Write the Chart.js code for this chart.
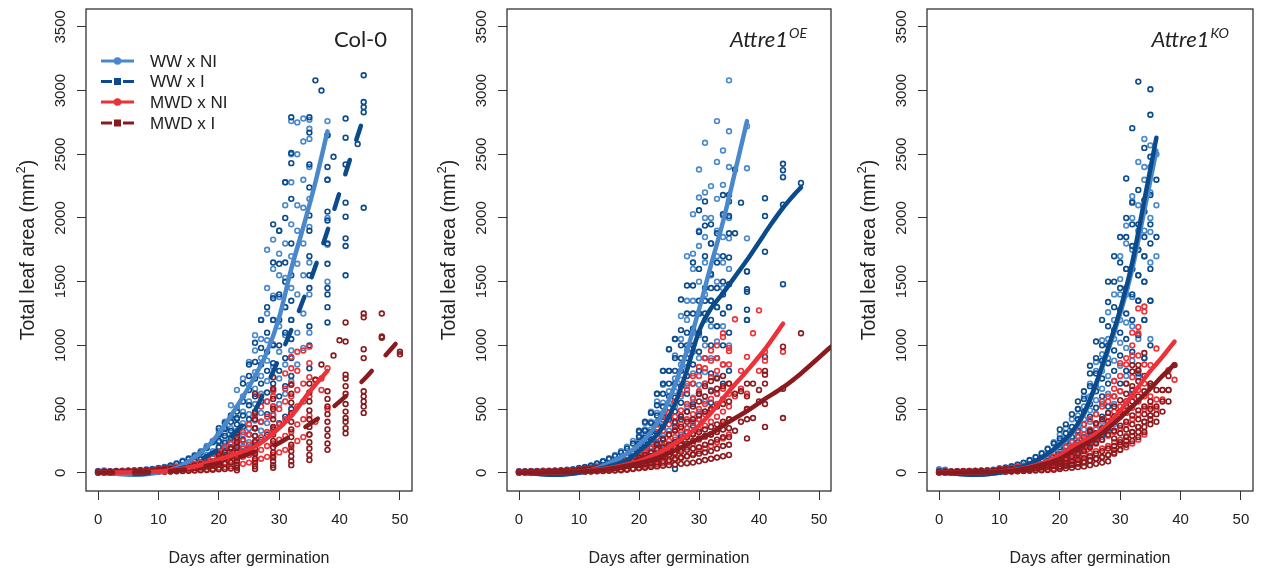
<!DOCTYPE html>
<html>
<head>
<meta charset="utf-8">
<script src="https://cdn.jsdelivr.net/npm/chart.js@4.4.1/dist/chart.umd.min.js"></script>
<style>
  body { margin: 0; background: #fff; width: 1263px; height: 572px; position: relative; overflow: hidden; }
  canvas { position: absolute; top: 0; }
</style>
</head>
<body>
<canvas id="p1" width="421" height="572" style="left:0px"></canvas>
<canvas id="p2" width="421" height="572" style="left:421px"></canvas>
<canvas id="p3" width="421" height="572" style="left:841px"></canvas>
<script>
const seriesNames = ["WW x NI", "WW x I", "MWD x NI", "MWD x I"];
const seriesColors = ["#4a88cc", "#0b4b8b", "#ec3238", "#8b1a1e"];
const xTicks = [0, 10, 20, 30, 40, 50];
const yTicks = [0, 500, 1000, 1500, 2000, 2500, 3000, 3500];

// ---- Col-0 : measured plants (day, values per day) ----
const col0WwNiDays = [0,1,2,3,4,5,6,7,8,9,10,11,12,13,14,15,16,17,18,19,20,21,22,23,24,25,26,27,28,29,30,31,32,33,34,35,38];
const col0WwNiVals = [
  [2,8,15],[3,10,18],[4,12],[5,14],[6,16],[6,18],[7,20],[8,22],[10,26],[12,30],
  [15,25,38],[18,32,45],[22,40,58],[26,50,75],[32,62,95],[40,75,115],[48,95,140],[58,115,170],[70,140,210],[85,170,250],
  [110,160,205,240,290,330],[130,190,250,310,360,400],[150,225,280,350,430,530],[175,260,330,420,510,650],[205,300,390,480,600,740],
  [240,350,460,560,690,870],[290,410,540,660,790,960,1080],[330,470,620,760,900,1050,1200],[390,560,720,880,1040,1250,1450,1750],[460,640,830,1010,1200,1390,1600,1830],
  [540,740,950,1150,1380,1550,1720,1900],[620,850,1080,1300,1530,1800,2100,2280],[720,960,1200,1450,1700,1950,2280,2500,2760],[850,1100,1400,1640,1900,2100,2500,2750],
  [980,1250,1550,1800,2080,2300,2600,2780],[1100,1400,1650,1930,2150,2400,2620,2700,2770],[1500,1790,2000,2300,2650,2760]
];
const col0WwIDays = [0,1,2,3,4,5,6,7,8,9,10,11,12,13,14,15,16,17,18,19,20,21,22,23,24,25,26,27,28,29,30,31,32,35,36,37,38,39,41,43,44];
const col0WwIVals = [
  [3,10],[4,12],[4,13],[5,14],[5,15],[6,16],[7,18],[8,20],[9,24],[11,28],
  [14,25,35],[17,30,42],[20,38,55],[24,46,70],[30,58,88],[36,70,108],[44,88,130],[52,105,160],[62,125,195],[75,150,240],
  [95,150,200,250,300,350],[110,175,235,290,345,390],[125,200,270,330,400,450],[140,230,310,380,430,480],[165,260,360,450,560,700],
  [190,300,420,530,650,760,850],[220,350,480,600,740,870,1020],[260,400,560,700,850,980,1200],[300,460,630,800,950,1100,1300],
  [340,520,700,860,1000,1200,1370,1650,1950],[390,600,800,1000,1200,1400,1640,1900],[440,680,900,1100,1300,1500,1650,2000,2280],
  [500,760,900,1050,1200,1350,1550,1800,2150,2430,2510,2790],
  [820,1000,1150,1450,1550,1700,1900,2020,2240,2420,2670,2790],[3080],[3000],[1180,1300,1400,1450,1640,1800,1980,2050,2300,2400,2650],[2480],
  [1550,1780,1840,2010,2120,2420,2630,2780],[2580],[2080,2830,2870,2910,3120]
];
const col0MwdNiDays = [0,1,2,3,4,5,6,7,8,9,10,11,12,13,14,15,16,17,18,19,20,21,22,23,24,25,26,27,28,29,30,31,32,33,34,35,36,37,38];
const col0MwdNiVals = [
  [2,8],[3,9],[3,10],[4,11],[4,12],[5,13],[5,14],[6,15],[7,17],[8,19],
  [9,20,28],[10,22,33],[12,26,38],[14,30,45],[16,35,52],[18,40,62],[21,46,72],[24,55,85],[28,64,100],[32,75,120],
  [40,70,100,140,165],[45,80,120,160,200],[52,95,140,185,230],[60,110,160,215,260],[70,125,190,250,320],
  [80,140,220,300,380],[95,160,250,350,450],[110,180,280,400,520,600],[125,210,320,440,560],[140,230,350,450,520,600,650],
  [160,260,380,500],[180,290,420,560,660,780],[200,320,460,600,700,820,910],[250,380,520,650,800,950],[280,420,560,700,960],
  [300,450,600,750,860,990],[400,730],[650,740],[500,820]
];
const col0MwdIDays = [0,1,2,3,4,5,6,7,8,9,10,11,12,13,14,15,16,17,18,19,20,21,22,23,26,29,32,35,36,37,38,39,40,41,44,47,50];
const col0MwdIVals = [
  [2,7],[3,8],[3,9],[4,10],[4,11],[5,12],[5,13],[6,14],[7,15],[7,17],
  [8,18,25],[9,20,29],[10,23,33],[12,26,38],[13,29,44],[15,33,50],[17,37,58],[19,42,66],[21,48,76],[24,55,88],
  [27,62,100,140],[30,70,115,160],[34,80,130,190],
  [20,40,60,90,120,160,200,240,280,310],
  [30,50,80,110,150,190,240,290,350,420,470,620],
  [40,60,90,120,160,200,250,300,360,420,500,580,660,750],
  [60,90,130,170,220,280,340,400,470,550,620,690],
  [100,140,190,240,300,360,420,490,560,630,700],
  [730],[850],
  [180,230,290,340,400,460,520,580,640],
  [920],[1040],
  [310,350,400,430,480,540,620,680,740,770,1030,1180],
  [470,520,560,600,640,900,970,1220,1250],
  [1060,1070,1250],
  [930,950]
];
// ---- Col-0 : fitted curves ----
const col0FitWwNiDays = [0,3,6,9,12,15,18,20,23,26,28,30,32,34,36,38];
const col0FitWwNiVals = [0,-8,-15,-5,20,90,200,310,520,760,950,1220,1600,1930,2280,2680];
const col0FitWwIDays = [0,3,6,9,12,15,18,20,23,26,28,30,32,34,36,38,40,42,44];
const col0FitWwIVals = [0,-5,-10,0,15,55,130,190,330,490,690,900,1120,1360,1620,1900,2200,2500,2790];
const col0FitMwdNiDays = [0,3,6,9,12,15,18,20,23,26,29,32,35,38];
const col0FitMwdNiVals = [0,2,4,8,18,40,75,105,150,205,310,445,635,800];
const col0FitMwdIDays = [0,3,6,9,12,15,18,20,23,26,29,32,35,38,41,44,47,50];
const col0FitMwdIVals = [0,2,4,7,14,30,55,75,115,165,210,290,380,480,600,730,890,1050];

// ---- Attre1 OE : measured plants ----
const oeWwNiDays = [0,1,2,3,4,5,6,7,8,9,10,11,12,13,14,15,16,17,18,19,20,21,22,23,24,25,26,27,28,29,30,31,32,33,34,35,38];
const oeWwNiVals = [
  [3,12],[4,13],[4,14],[5,15],[5,16],[6,17],[7,19],[8,21],[9,24],[11,28],
  [14,26,38],[17,32,46],[20,40,58],[25,50,75],[30,62,92],[37,76,115],[45,92,140],[55,112,170],[66,135,205],[80,165,250],
  [95,150,200,250,290,320],[115,175,235,290,340,390],[135,205,270,340,400,480],[160,240,320,400,470,560,620],[190,290,380,470,550,690,800],
  [220,330,440,550,640,800,970],[260,390,520,640,740,920,1050],[300,450,600,730,850,1050,1230],[350,520,680,830,960,1200,1350,1700],
  [400,590,780,950,1100,1350,1600,1720,2030],[480,690,900,1080,1250,1500,1780,1900,2160,2380],[560,790,1000,1200,1400,1650,1850,2000,2200,2590],
  [650,900,1150,1350,1550,1800,2000,2250],[750,1030,1300,1500,1700,1900,2150,2440,2760],[850,1150,1450,1650,1850,2020,2260,2530],
  [1000,1300,1600,1840,2000,2400,2680,3080],[1200,1580,1840,2390,2720]
];
const oeWwIDays = [0,1,2,3,4,5,6,7,8,9,10,11,12,13,14,15,16,17,18,19,20,21,22,23,24,25,26,27,28,29,30,31,32,33,34,35,36,37,38,41,44,47];
const oeWwIVals = [
  [3,10],[4,11],[4,12],[5,13],[5,14],[6,15],[6,17],[7,19],[8,22],[10,26],
  [13,25,36],[16,30,44],[19,37,55],[23,46,70],[28,57,88],[34,70,108],[41,86,130],[50,104,158],[60,125,190],[72,150,230],
  [90,140,180,230,280,330],[110,165,220,275,330,400],[130,195,260,320,390,470],[150,230,310,380,450,530,620],[180,270,360,440,520,620,700,800],
  [200,300,420,510,600,700,800,970],[30,240,360,480,590,700,800,900,1050],[280,420,550,680,800,900,1000,1120,1360],[320,480,620,760,900,1000,1100,1250,1470],
  [370,540,700,850,1000,1130,1250,1470,1650],[420,620,800,950,1100,1250,1350,1600,1890,2060],[480,700,900,1050,1250,1350,1450,1700,1940,2130],
  [550,780,1000,1200,1350,1450,1560,1800,1950],[620,900,1150,1300,1450,1650,1880],[700,1000,1250,1400,1500,1700,2030,2180],
  [800,1100,1300,1480,1690,1880,2015,2130,2180],[1880,2380],[2120],[1200,1280,1420,1440,1580],
  [910,1735,2015,2155],[1480,2105,2320,2375,2425],[2275]
];
const oeMwdNiDays = [0,1,2,3,4,5,6,7,8,9,10,11,12,13,14,15,16,17,18,19,20,21,22,23,24,25,26,27,28,29,30,31,32,33,34,35,36,37,38,39,40,41,44];
const oeMwdNiVals = [
  [2,8],[3,9],[3,10],[4,11],[4,12],[5,13],[5,14],[6,15],[7,17],[8,19],
  [9,20,26],[10,23,30],[12,27,36],[14,31,42],[16,36,50],[19,42,60],[22,50,72],[26,58,86],[30,68,100],[35,80,120],
  [40,70,95,120,140,160],[48,80,110,140,165,190],[55,90,125,160,190,230],[65,105,145,185,220,280,350],[75,120,170,215,260,330,420],
  [85,140,195,250,300,380,470],[100,160,220,280,340,440,560],[115,180,250,320,380,490,620],[130,200,280,350,420,540,650,700],
  [150,230,310,390,460,580,700,760],[170,260,340,420,500,640,760,830],[190,280,370,460,540,700,820,900],[210,300,400,490,580,750,880,960],
  [240,340,440,540,620,800,900,1000],[270,380,480,580,660,850,1065,1095],[300,420,520,620,700,850,955,980],
  [600,1205],[660,800],[500,620,910],[1095],[800,1275],[880,950],[950]
];
const oeMwdIDays = [0,1,2,3,4,5,6,7,8,9,10,11,12,13,14,15,16,17,18,19,20,21,22,23,24,25,26,27,28,29,30,31,32,33,34,35,36,37,38,39,40,41,44,47];
const oeMwdIVals = [
  [2,7],[3,8],[3,9],[4,10],[4,11],[5,12],[5,13],[6,14],[7,15],[7,17],
  [8,18,24],[9,20,28],[10,23,32],[12,26,37],[13,29,42],[15,33,48],[17,37,56],[20,44,66],[24,52,78],[29,62,95],
  [35,60,80,100,120],[40,65,90,115,140],[45,72,100,130,160],[50,80,110,145,180,220],[55,90,125,160,200,260],
  [60,100,140,180,220,300],[65,110,150,200,240,330,400],[70,120,165,220,260,360,440],[75,130,180,230,280,400,480],
  [80,140,190,250,300,420,520],[90,150,200,270,320,450,560,620],[100,160,220,290,340,480,600,680],[110,170,240,300,360,500,640,720],
  [120,190,260,320,380,520,660,740],[130,210,280,340,400,540,680,760],[140,220,280,350,420,560,700],
  [330,620],[400,640],[270,420,500,600,700],[430,700],[560,650],[360,540,700,770,800],[430,660,990],[1095]
];
// ---- Attre1 OE : fitted curves ----
const oeFitWwNiDays = [0,3,6,9,12,15,18,20,22,24,26,28,30,32,34,36,38];
const oeFitWwNiVals = [0,-8,-15,-5,20,75,150,220,320,470,690,960,1280,1630,1970,2360,2760];
const oeFitWwIDays = [0,3,6,9,12,15,18,20,22,24,26,28,30,32,34,36,38,40,42,44,46,47];
const oeFitWwIVals = [0,-8,-15,-5,18,50,100,170,250,360,540,806,1110,1290,1410,1540,1670,1810,1950,2080,2190,2240];
const oeFitMwdNiDays = [0,3,6,9,12,15,18,20,23,26,29,32,35,38,41,44];
const oeFitMwdNiVals = [0,2,4,8,16,35,65,90,150,230,330,470,640,800,970,1170];
const oeFitMwdIDays = [0,3,6,9,12,15,18,20,23,26,29,32,35,38,41,44,47,50,52];
const oeFitMwdIVals = [0,2,4,7,14,30,55,75,115,175,245,310,400,485,580,670,780,905,990];

// ---- Attre1 KO : measured plants ----
const koWwNiDays = [0,1,2,3,4,5,6,7,8,9,10,11,12,13,14,15,16,17,18,19,20,21,22,23,24,25,26,27,28,29,30,31,32,33,34,35,36];
const koWwNiVals = [
  [5,20,28],[5,18,25],[4,12],[5,13],[5,14],[6,15],[6,16],[7,18],[8,20],[9,24],
  [12,25,35],[15,30,42],[18,36,52],[22,45,65],[27,55,80],[33,68,100],[40,85,125],[50,105,155],[60,130,190],[72,155,240],
  [80,130,180,250,300],[100,150,210,270,350],[120,180,250,320,420],[140,210,290,360,450,500],[170,250,340,420,520,600],
  [200,290,400,490,600,700],[240,340,460,570,680,800,870],[280,400,540,660,800,930,1040],[330,470,620,760,900,1050,1260],
  [380,540,720,880,1050,1200,1400],[450,640,840,1020,1200,1400,1520,1700],[530,760,980,1180,1400,1600,1800,1940],
  [620,880,1150,1380,1600,1750,2000,2130,2170],[750,1050,1350,1550,1750,1900,2100,2440],[900,1200,1500,1700,1900,2050,2300,2400,2620],
  [1050,1350,1650,1890,2000,2200,2400,2570],[1700,2100,2500]
];
const koWwIDays = [0,1,2,3,4,5,6,7,8,9,10,11,12,13,14,15,16,17,18,19,20,21,22,23,24,25,26,27,28,29,30,31,32,33,34,35,36];
const koWwIVals = [
  [4,15],[4,14],[4,11],[5,12],[5,13],[5,14],[6,15],[7,17],[8,19],[9,22],
  [12,24,33],[14,29,40],[17,35,50],[21,43,62],[26,53,78],[32,66,98],[39,82,122],[48,102,150],[58,126,185],[70,152,230],
  [90,140,200,270,340],[110,170,240,310,380],[130,200,280,360,460],[150,240,330,420,500,560],[180,280,380,480,580,640],
  [220,320,440,540,680,780,840],[260,380,510,640,780,900,1030],[300,440,600,740,880,1000,1200],[350,520,700,860,1000,1150,1340,1500],
  [400,600,800,960,1120,1300,1500,1700],[480,700,920,1100,1280,1450,1650,1850],[560,800,1050,1250,1450,1600,1850,2000,2310],
  [650,950,1200,1400,1600,1780,1950,2120,2705],[780,1080,1350,1550,1750,1950,2220,3070],[900,1200,1500,1700,1850,2050,2140,2550],
  [1000,1350,1600,1800,1950,2180,2480,2810,3010],[1850,2300]
];
const koMwdNiDays = [0,1,2,3,4,5,6,7,8,9,10,11,12,13,14,15,16,17,18,19,20,21,22,23,24,25,26,27,28,29,30,31,32,33,34,35,36,37,38,39];
const koMwdNiVals = [
  [2,8],[3,9],[3,10],[4,11],[4,12],[5,13],[5,14],[6,15],[7,17],[8,19],
  [9,20,28],[10,23,32],[12,27,38],[14,32,45],[16,37,54],[19,44,64],[22,52,76],[26,62,90],[30,72,108],[35,85,128],
  [42,70,100,130,150],[60,95,130,165,200],[70,110,150,195,240],[80,125,170,220,280,320],[90,140,190,245,300,380],
  [100,155,210,275,340,420],[110,170,240,310,380,460],[120,190,260,340,420,520,560],[140,210,290,370,440,560,600],
  [160,240,320,400,480,600,660,720],[180,260,350,440,520,640,760,860],[200,290,380,470,560,700,850,900],
  [230,320,420,510,600,750,920,1000,1100],[260,360,460,560,650,800,920,1095,1145,1290],[300,400,500,600,700,850,1265,1305],
  [450,520,600,700,845],[500,575,975],[575,650],[650,805],[730]
];
const koMwdIDays = [0,1,2,3,4,5,6,7,8,9,10,11,12,13,14,15,16,17,18,19,20,21,22,23,24,25,26,27,28,29,30,31,32,33,34,35,36,37,38,39];
const koMwdIVals = [
  [2,7],[3,8],[3,9],[4,10],[4,11],[5,12],[5,13],[6,14],[7,15],[7,17],
  [8,18,25],[9,20,28],[10,22,32],[12,25,36],[13,28,41],[15,32,47],[17,36,54],[19,41,62],[21,47,72],[24,54,82],
  [30,50,70,90],[35,55,80,110],[40,62,90,130],[45,70,100,150,190],[50,80,115,170,230],
  [60,95,130,200,270,330],[70,110,150,230,310,390],[80,125,170,260,350,420],[90,140,190,300,400,470],
  [150,180,210,270,330,440,520],[180,220,240,310,370,480,570],[220,250,280,340,400,520,620,700],
  [250,290,320,380,450,560,680,795,845],[280,320,360,420,490,600,720,805,845],[320,360,400,460,520,640,760,940],
  [380,420,450,500,560,680,700],[400,460,520,650],[480,560,650],[560,650,760],[845]
];
// ---- Attre1 KO : fitted curves ----
const koFitWwNiDays = [0,3,6,9,12,15,18,20,22,24,26,28,30,32,34,36];
const koFitWwNiVals = [0,-8,-15,-5,20,70,145,215,310,460,690,960,1250,1600,2060,2530];
const koFitWwIDays = [0,3,6,9,12,15,18,20,22,24,26,28,30,32,34,36];
const koFitWwIVals = [0,-8,-15,-5,20,70,150,225,320,470,700,980,1280,1650,2140,2630];
const koFitMwdNiDays = [0,3,6,9,12,15,18,20,23,26,29,32,35,37,39];
const koFitMwdNiVals = [0,2,4,8,18,45,90,135,225,305,430,610,800,910,1030];
const koFitMwdIDays = [0,3,6,9,12,15,18,20,23,26,29,32,35,37,39];
const koFitMwdIVals = [0,2,4,7,15,40,75,110,195,275,390,520,660,760,850];

function points(days, vals) {
  const out = [];
  days.forEach((d, i) => vals[i].forEach(v => out.push({ x: d, y: v })));
  return out;
}
function curve(days, vals) {
  return days.map((d, i) => ({ x: d, y: vals[i] }));
}

const panels = [
  { id: "p1", label: "Col-0", sup: "", italic: false, dashed: true, legend: true, padRight: 9,
    pts: [[col0WwNiDays, col0WwNiVals], [col0WwIDays, col0WwIVals], [col0MwdNiDays, col0MwdNiVals], [col0MwdIDays, col0MwdIVals]],
    fits: [[col0FitWwNiDays, col0FitWwNiVals], [col0FitWwIDays, col0FitWwIVals], [col0FitMwdNiDays, col0FitMwdNiVals], [col0FitMwdIDays, col0FitMwdIVals]] },
  { id: "p2", label: "Attre1", sup: "OE", italic: true, dashed: false, legend: false, padRight: 11,
    pts: [[oeWwNiDays, oeWwNiVals], [oeWwIDays, oeWwIVals], [oeMwdNiDays, oeMwdNiVals], [oeMwdIDays, oeMwdIVals]],
    fits: [[oeFitWwNiDays, oeFitWwNiVals], [oeFitWwIDays, oeFitWwIVals], [oeFitMwdNiDays, oeFitMwdNiVals], [oeFitMwdIDays, oeFitMwdIVals]] },
  { id: "p3", label: "Attre1", sup: "KO", italic: true, dashed: false, legend: false, padRight: 9,
    pts: [[koWwNiDays, koWwNiVals], [koWwIDays, koWwIVals], [koMwdNiDays, koMwdNiVals], [koMwdIDays, koMwdIVals]],
    fits: [[koFitWwNiDays, koFitWwNiVals], [koFitWwIDays, koFitWwIVals], [koFitMwdNiDays, koFitMwdNiVals], [koFitMwdIDays, koFitMwdIVals]] }
];

const FONT = '"Liberation Sans", Arial, sans-serif';
const dashPattern = [15, 21];

// box, rotated y labels, titles, panel name and legend
const decor = {
  id: "decor",
  afterDraw(chart, args, opts) {
    const { ctx, chartArea: a } = chart;
    const y = chart.scales.y;
    ctx.save();
    ctx.strokeStyle = "#333";
    ctx.lineWidth = 1.3;
    ctx.strokeRect(a.left, a.top, a.right - a.left, a.bottom - a.top);

    ctx.fillStyle = "#222";
    ctx.textAlign = "center";
    ctx.textBaseline = "middle";
    ctx.font = "15px " + FONT;
    yTicks.forEach(v => {
      ctx.save();
      ctx.translate(61, y.getPixelForValue(v));
      ctx.rotate(-Math.PI / 2);
      ctx.fillText(String(v), 0, 0);
      ctx.restore();
    });

    // y title with superscript
    ctx.save();
    ctx.translate(27, (a.top + a.bottom) / 2);
    ctx.rotate(-Math.PI / 2);
    ctx.textAlign = "left";
    ctx.textBaseline = "alphabetic";
    const big = "19.5px " + FONT, small = "13px " + FONT;
    ctx.font = big;
    const t1 = "Total leaf area (mm", t3 = ")";
    const w1 = ctx.measureText(t1).width, w3 = ctx.measureText(t3).width;
    ctx.font = small;
    const w2 = ctx.measureText("2").width;
    const sx = -(w1 + w2 + w3) / 2;
    ctx.font = big;
    ctx.fillText(t1, sx, 7);
    ctx.font = small;
    ctx.fillText("2", sx + w1, -2);
    ctx.font = big;
    ctx.fillText(t3, sx + w1 + w2, 7);
    ctx.restore();

    // x title
    ctx.font = "16px " + FONT;
    ctx.fillText("Days after germination", (a.left + a.right) / 2, 559);

    // panel name
    const p = opts.panel;
    const right = a.right - 24;
    ctx.textBaseline = "alphabetic";
    ctx.textAlign = "right";
    let supW = 0;
    if (p.sup) {
      ctx.font = "italic 14px Lato, " + FONT;
      supW = ctx.measureText(p.sup).width;
      ctx.fillText(p.sup, right, 38);
    }
    ctx.font = (p.italic ? "italic " : "") + "22px Lato, " + FONT;
    ctx.fillText(p.label, right - supW - 1, 47);

    if (p.legend) {
      const rows = [61, 81.5, 102, 123];
      ctx.textAlign = "left";
      ctx.textBaseline = "middle";
      ctx.font = "17px " + FONT;
      seriesNames.forEach((name, i) => {
        const ry = rows[i], c = seriesColors[i];
        ctx.strokeStyle = c;
        ctx.fillStyle = c;
        ctx.lineWidth = 3;
        ctx.lineCap = "butt";
        ctx.beginPath();
        if (i % 2 === 0) {
          ctx.moveTo(101, ry); ctx.lineTo(134, ry);
          ctx.stroke();
          ctx.beginPath();
          ctx.arc(117.5, ry, 3.8, 0, Math.PI * 2);
          ctx.fill();
        } else {
          ctx.moveTo(101, ry); ctx.lineTo(112, ry);
          ctx.moveTo(123, ry); ctx.lineTo(134, ry);
          ctx.stroke();
          ctx.fillRect(114, ry - 3.5, 7, 7);
        }
        ctx.fillStyle = "#222";
        ctx.fillText(name, 150, ry + 1);
      });
    }
    ctx.restore();
  }
};

panels.forEach(p => {
  const datasets = [];
  p.fits.forEach((f, i) => {
    datasets.push({
      type: "line",
      label: seriesNames[i] + " fit",
      data: curve(f[0], f[1]),
      borderColor: seriesColors[i],
      borderWidth: 4.5,
      borderDash: p.dashed && i % 2 === 1 ? dashPattern : [],
      borderCapStyle: "round",
      pointRadius: 0,
      fill: false,
      cubicInterpolationMode: "monotone",
      order: 3 - i
    });
  });
  p.pts.forEach((s, i) => {
    datasets.push({
      type: "scatter",
      label: seriesNames[i],
      data: points(s[0], s[1]),
      borderColor: seriesColors[i],
      backgroundColor: "rgba(0,0,0,0)",
      borderWidth: 1.6,
      pointRadius: 2.4,
      order: 7 - i
    });
  });

  const axisGrid = { drawOnChartArea: false, drawTicks: true, tickLength: 9, color: "#333", lineWidth: 1 };
  new Chart(document.getElementById(p.id), {
    type: "scatter",
    data: { datasets },
    options: {
      responsive: false,
      animation: false,
      events: [],
      layout: { padding: { top: 9, right: p.padRight, left: 0, bottom: 0 } },
      plugins: { legend: { display: false }, tooltip: { enabled: false }, decor: { panel: p } },
      scales: {
        x: {
          type: "linear", min: -2, max: 52,
          afterBuildTicks: s => { s.ticks = xTicks.map(v => ({ value: v })); },
          afterFit: s => { s.height = 81; },
          grid: axisGrid,
          border: { display: false },
          ticks: { color: "#222", font: { family: FONT, size: 15 }, padding: 11, maxRotation: 0 }
        },
        y: {
          type: "linear", min: -143, max: 3640,
          afterBuildTicks: s => { s.ticks = yTicks.map(v => ({ value: v })); },
          afterFit: s => { s.width = 86; },
          grid: axisGrid,
          border: { display: false },
          ticks: { display: false }
        }
      }
    },
    plugins: [decor]
  });
});
</script>
</body>
</html>
